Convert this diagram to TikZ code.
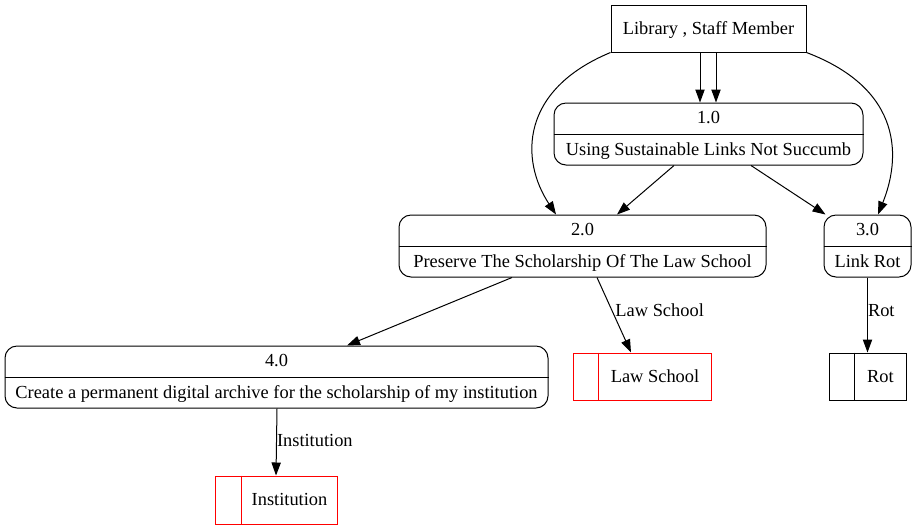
\documentclass[tikz,border=0pt]{standalone}
\usepackage{fontspec}
\setmainfont{Liberation Serif}
\usetikzlibrary{arrows.meta,calc}
\begin{document}
\begin{tikzpicture}[x=1pt,y=-1pt,
  every node/.style={font=\fontsize{18.4}{22}\selectfont, inner sep=0pt},
  txt/.style={text height=11.5pt, text depth=0.5pt},
  ent/.style={draw, line width=1pt, rectangle, txt},
  proc/.style={draw, line width=1pt, rectangle, rounded corners=12pt},
  storebox/.style={draw, line width=1pt, rectangle},
  redstore/.style={storebox, draw=red},
  flow/.style={line width=1pt, -{Triangle[length=13pt,width=9.3pt]}},
  lbl/.style={anchor=west, txt}
]
\useasboundingbox (0,0) rectangle (917,531);

% external entity
\node[ent, minimum width=195, minimum height=47] (top) at (708.5,28.5) {Library , Staff Member};

% processes
\node[proc, minimum width=309, minimum height=62] (p1) at (708.5,134) {};
\draw[line width=1pt] (p1.west) -- (p1.east);
\node[txt] (p1a) at ($(p1.north)!0.25!(p1.south)$) {1.0};
\node[txt] (p1b) at ($(p1.north)!0.75!(p1.south)$) {Using Sustainable Links Not Succumb};

\node[proc, minimum width=367, minimum height=62] (p2) at (582.5,246) {};
\draw[line width=1pt] (p2.west) -- (p2.east);
\node[txt] (p2a) at ($(p2.north)!0.25!(p2.south)$) {2.0};
\node[txt] (p2b) at ($(p2.north)!0.75!(p2.south)$) {Preserve The Scholarship Of The Law School};

\node[proc, minimum width=87, minimum height=62] (p3) at (867.5,246) {};
\draw[line width=1pt] (p3.west) -- (p3.east);
\node[txt] (p3a) at ($(p3.north)!0.25!(p3.south)$) {3.0};
\node[txt] (p3b) at ($(p3.north)!0.75!(p3.south)$) {Link Rot};

\node[proc, minimum width=543, minimum height=62] (p4) at (276.5,377) {};
\draw[line width=1pt] (p4.west) -- (p4.east);
\node[txt] (p4a) at ($(p4.north)!0.25!(p4.south)$) {4.0};
\node[txt] (p4b) at ($(p4.north)!0.75!(p4.south)$) {Create a permanent digital archive for the scholarship of my institution};

% data stores
\node[redstore, minimum width=138, minimum height=47] (law) at (642,376.5) {};
\draw[line width=1pt, red] ([xshift=26]law.north west) -- ([xshift=26]law.south west);
\node[txt] (lawt) at (655,376.5) {Law School};

\node[storebox, minimum width=77, minimum height=47] (rot) at (867.5,376.5) {};
\draw[line width=1pt] ([xshift=26]rot.north west) -- ([xshift=26]rot.south west);
\node[txt] (rott) at (880.5,376.5) {Rot};

\node[redstore, minimum width=122, minimum height=48] (inst) at (276,500) {};
\draw[line width=1pt, red] ([xshift=27]inst.north west) -- ([xshift=27]inst.south west);
\node[txt] (instt) at (289.5,500) {Institution};

% flows
\draw[flow] ([xshift=-8.5]top.south) -- ([xshift=-8.5]p1.north);
\draw[flow] ([xshift=7.5]top.south) -- ([xshift=7.5]p1.north);
\draw[flow] (top.south west) .. controls (520,90) and (520,160) .. ([xshift=-26.5]p2.north);
\draw[flow] (top.south east) .. controls (905,90) and (900,160) .. ([xshift=10.5]p3.north);
\draw[flow] ([xshift=-34.5]p1.south) -- ([xshift=34.5]p2.north);
\draw[flow] ([xshift=42.5]p1.south) -- ([xshift=-42]p3.north);
\draw[flow] ([xshift=-70.5]p2.south) -- ([xshift=70.5]p4.north);
\draw[flow] ([xshift=14.5]p2.south) -- ([xshift=-11]law.north) node[lbl, pos=0.44, xshift=3] (l1) {Law School};
\draw[flow] (p3.south) -- (rot.north) node[lbl, pos=0.44] (l2) {Rot};
\draw[flow] ([xshift=0.5]p4.south) -- (inst.north) node[lbl, pos=0.49] (l3) {Institution};
\end{tikzpicture}
\end{document}
